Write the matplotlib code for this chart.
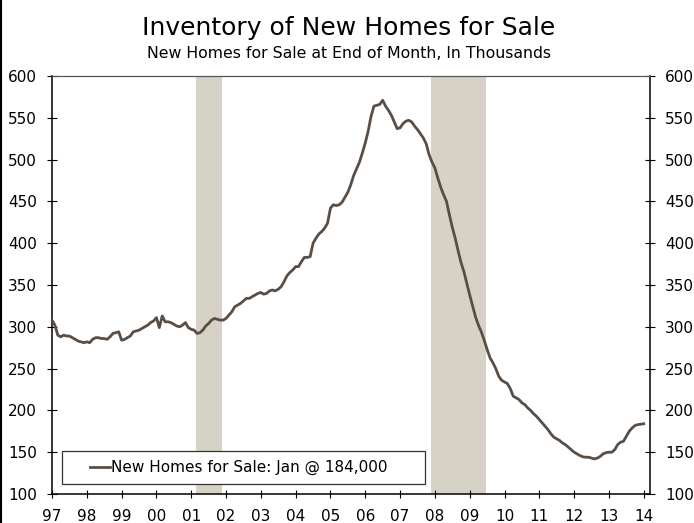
import matplotlib
matplotlib.use('Agg')
import matplotlib.pyplot as plt
from matplotlib.patches import Rectangle
from matplotlib.lines import Line2D
import numpy as np

# monthly new homes for sale, thousands, Jan 1997 - Jan 2014
y1997 = [308, 302, 290, 288, 290, 289, 289, 287, 285, 283, 282, 281]
y1998 = [282, 281, 285, 287, 287, 286, 286, 285, 288, 292, 293, 294]
y1999 = [284, 285, 287, 289, 294, 295, 296, 298, 300, 302, 305, 307]
y2000 = [311, 299, 313, 306, 306, 305, 303, 301, 300, 302, 305, 299]
y2001 = [297, 296, 292, 293, 296, 301, 304, 308, 310, 309, 308, 308]
y2002 = [310, 314, 318, 324, 326, 328, 331, 334, 334, 336, 338, 340]
y2003 = [341, 339, 340, 343, 344, 343, 345, 348, 354, 361, 365, 368]
y2004 = [372, 372, 378, 383, 383, 384, 400, 406, 411, 414, 418, 424]
y2005 = [442, 446, 445, 446, 449, 455, 461, 470, 481, 489, 497, 508]
y2006 = [520, 534, 552, 564, 565, 566, 571, 564, 559, 553, 545, 537]
y2007 = [538, 543, 546, 547, 545, 540, 536, 531, 526, 519, 506, 497]
y2008 = [490, 478, 467, 458, 450, 434, 419, 406, 391, 377, 366, 352]
y2009 = [338, 325, 312, 302, 294, 284, 273, 263, 257, 250, 241, 236]
y2010 = [234, 232, 226, 217, 215, 213, 209, 207, 203, 200, 196, 193]
y2011 = [189, 185, 181, 177, 172, 168, 166, 164, 161, 159, 156, 153]
y2012 = [150, 148, 146, 144.5, 144, 144, 143, 142, 143, 145, 148, 149.5]
y2013 = [150, 150, 153, 159, 162, 163, 169, 175, 179, 182, 183, 183.5]
y2014 = [184]

values = (y1997 + y1998 + y1999 + y2000 + y2001 + y2002 + y2003 + y2004 +
          y2005 + y2006 + y2007 + y2008 + y2009 + y2010 + y2011 + y2012 +
          y2013 + y2014)
dates = 1997 + np.arange(len(values)) / 12.0

# recessions (fractional years)
rec_start = [2001.13, 2007.89]
rec_end = [2001.88, 2009.47]

tick_years = list(range(1997, 2015))
tick_labels = ['%02d' % (y % 100) for y in tick_years]

line_color = '#5a4e44'
bar_color = '#d6d3c6'

fig = plt.figure(figsize=(6.94, 5.23), dpi=100)
ax = fig.add_axes([52 / 694, 1 - 494 / 523, 598 / 694, 418 / 523])

for s, e in zip(rec_start, rec_end):
    ax.axvspan(s, e, color=bar_color, lw=0, zorder=1)

ax.plot(dates, values, color=line_color, lw=2.0, zorder=3,
        label='New Homes for Sale: Jan @ 184,000')

ax.set_xlim(1997, 2014.18)
ax.set_ylim(100, 600)
ax.set_yticks(range(100, 601, 50))
ax.set_xticks(tick_years)
ax.set_xticklabels(tick_labels)

ax.tick_params(axis='y', direction='inout', length=6.5, width=0.8,
               labelsize=11, pad=7.5, left=True, right=True,
               labelleft=True, labelright=True)
ax.tick_params(axis='x', direction='inout', length=6, width=0.8,
               labelsize=11, pad=7.5)

for side in ['left', 'right', 'bottom']:
    ax.spines[side].set_color('black')
    ax.spines[side].set_linewidth(1.1)
ax.spines['top'].set_color('#555555')
ax.spines['top'].set_linewidth(0.9)

# legend box
ax.add_patch(Rectangle((10 / 598, 10 / 418), 363 / 598, 33 / 418,
                       transform=ax.transAxes, facecolor='white',
                       edgecolor='#333333', lw=0.9, zorder=4))
leg = ax.legend(loc='center left', bbox_to_anchor=(38 / 598, 26.5 / 418),
                frameon=False, fontsize=11, handlelength=1.3,
                handletextpad=0.1, borderpad=0, borderaxespad=0)
leg.set_zorder(5)

fig.text(0.503, 1 - 28 / 523, 'Inventory of New Homes for Sale',
         ha='center', va='center', fontsize=18)
fig.text(0.503, 1 - 54 / 523, 'New Homes for Sale at End of Month, In Thousands',
         ha='center', va='center', fontsize=11.3)

fig.add_artist(Line2D([0.0015, 0.0015], [0, 1], color='black', lw=1.5))

fig.savefig('out.png', dpi=100)
